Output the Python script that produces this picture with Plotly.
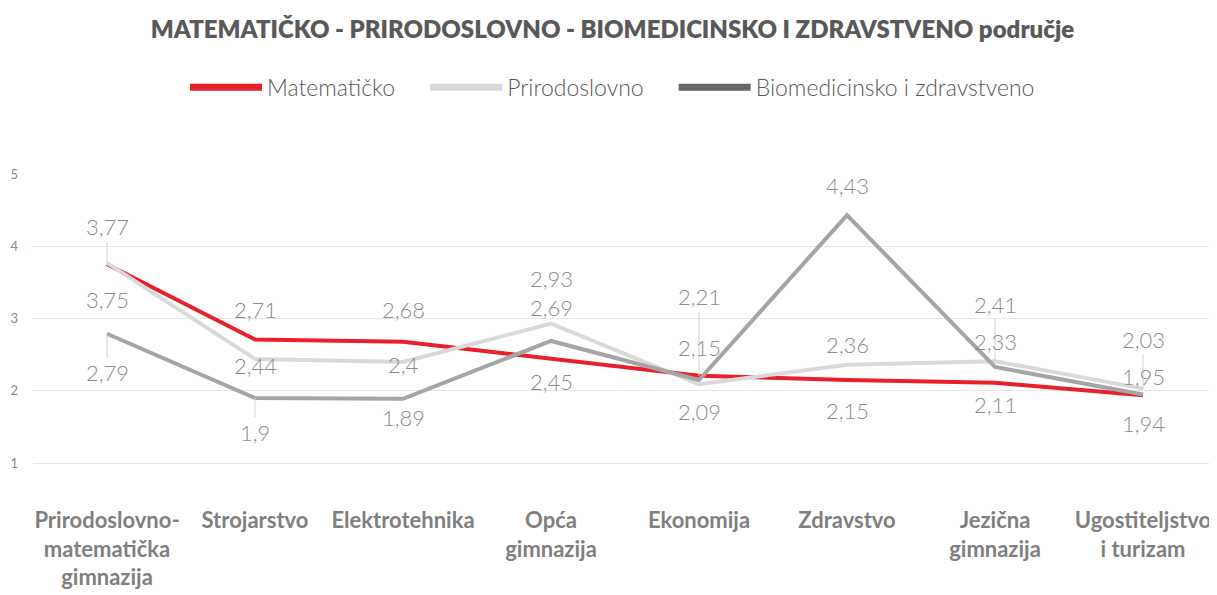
import plotly.graph_objects as go

categories = ["Prirodoslovno-<br>matematička<br>gimnazija", "Strojarstvo", "Elektrotehnika",
              "Opća<br>gimnazija", "Ekonomija", "Zdravstvo", "Jezična<br>gimnazija",
              "Ugostiteljstvo<br>i turizam"]
series_names = ["Matematičko", "Prirodoslovno", "Biomedicinsko i zdravstveno"]
matematicko = [3.75, 2.71, 2.68, 2.45, 2.21, 2.15, 2.11, 1.94]
prirodoslovno = [3.77, 2.44, 2.40, 2.93, 2.09, 2.36, 2.41, 2.03]
biomedicinsko = [2.79, 1.90, 1.89, 2.69, 2.15, 4.43, 2.33, 1.95]
y_ticks = [1, 2, 3, 4, 5]

# label offsets in px (positive = below the point) and whether a leader line is drawn
off_mat = [35, -30, -32, 23, -79, 31, 22, 28]
off_pri = [-36, 6, 3, -45, 27, -20, -57, -49]
off_bio = [39, 34, 19, -33, -32, -30, -25, -18]
lead_mat = [0, 0, 0, 0, 1, 0, 0, 0]
lead_pri = [1, 0, 0, 0, 0, 0, 1, 1]
lead_bio = [1, 1, 0, 0, 0, 0, 0, 0]

series = [
    (matematicko, "#e8202a", "#e8202a", off_mat, lead_mat),
    (prirodoslovno, "#d9d9d9", "#d9d9d9", off_pri, lead_pri),
    (biomedicinsko, "#a5a5a5", "#666666", off_bio, lead_bio),
]

label_font = dict(family="Lato", size=22, color="#8c8c8c", weight=300)

fig = go.Figure()
annotations = []
for i, (vals, col, leg_col, offs, leads) in enumerate(series):
    name = series_names[i]
    fig.add_trace(go.Scatter(x=categories, y=vals, mode="lines", name=name,
                             line=dict(color=col, width=4), showlegend=False))
    # legend swatch (extra spacing after all but the last entry)
    pad = "" if i == len(series) - 1 else "\u00a0" * 4
    fig.add_trace(go.Scatter(x=[None], y=[None], mode="lines", name=name + pad,
                             line=dict(color=leg_col, width=7)))
    for c, v, o, ld in zip(categories, vals, offs, leads):
        txt = f"{v:g}".replace(".", ",")
        if ld:
            annotations.append(dict(x=c, y=v, text=txt, showarrow=True, ax=0, ay=o,
                                    arrowhead=0, arrowwidth=1, arrowcolor="#d0d0d0",
                                    font=label_font))
        else:
            annotations.append(dict(x=c, y=v, text=txt, showarrow=False, yshift=-o,
                                    font=label_font))

# page body has an 8px margin, so the figure is drawn 8px smaller
fig.update_layout(
    width=1209, height=587,
    paper_bgcolor="white", plot_bgcolor="white",
    margin=dict(l=25, r=0, t=166, b=90, autoexpand=False),
    title=dict(text="MATEMATIČKO - PRIRODOSLOVNO - BIOMEDICINSKO I ZDRAVSTVENO područje",
               x=0.5, xref="container", xanchor="center",
               y=0.9625, yref="container", yanchor="middle",
               font=dict(family="Lato", size=24, color="#595959", weight=800)),
    legend=dict(orientation="h", x=0.5, xref="container", xanchor="center",
                y=0.865, yref="container", yanchor="middle",
                font=dict(family="Lato", size=23, color="#595959", weight=300),
                itemwidth=72, tracegroupgap=0),
    annotations=annotations,
    xaxis=dict(range=[-0.5, 7.5], showgrid=False, showline=False, zeroline=False, ticks="",
               automargin=False,
               tickfont=dict(family="Lato", size=22, color="#7f7f7f", weight="bold")),
    yaxis=dict(range=[0.42, 5], tickvals=y_ticks, showgrid=True, gridcolor="#e6e6e6",
               gridwidth=1, zeroline=False, showline=False, automargin=False,
               ticklabelstandoff=14,
               tickfont=dict(family="Lato", size=13, color="#8c8c8c")),
)

fig.write_html("out.html")
